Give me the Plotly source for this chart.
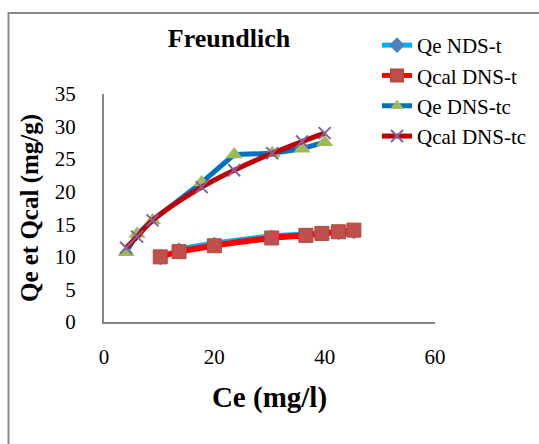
import plotly.graph_objects as go

# Data
ce_t = [10.2, 13.6, 20.0, 30.4, 36.6, 39.5, 42.5, 45.3]
qe_nds_t = [9.6, 11.3, 12.2, 13.3, 13.6, 13.8, 13.5, 13.6]
qcal_dns_t = [10.0, 10.8, 11.7, 12.9, 13.3, 13.6, 13.85, 14.1]

ce_tc = [4.0, 6.0, 8.8, 17.7, 23.6, 30.5, 35.9, 40.0]
qe_dns_tc = [10.7, 13.5, 15.6, 21.4, 25.7, 25.9, 26.6, 27.6]
qcal_dns_tc = [11.4, 13.1, 15.6, 20.7, 23.3, 25.9, 27.7, 29.0]

x_ticks = [0, 20, 40, 60]
y_ticks = [0, 5, 10, 15, 20, 25, 30, 35]

FONT = "Liberation Serif, Times New Roman, serif"

fig = go.Figure()
fig.add_trace(go.Scatter(
    x=ce_t, y=qe_nds_t, name="Qe NDS-t", mode="lines+markers",
    line=dict(color="#00B0F0", width=4),
    marker=dict(symbol="diamond", size=9, color="#4F81BD")))
fig.add_trace(go.Scatter(
    x=ce_t, y=qcal_dns_t, name="Qcal DNS-t", mode="lines+markers",
    line=dict(color="#FF0000", width=6, shape="spline"),
    marker=dict(symbol="square", size=14, color="#C0504D",
                line=dict(color="#B5473F", width=1))))
fig.add_trace(go.Scatter(
    x=ce_tc, y=qe_dns_tc, name="Qe DNS-tc", mode="lines+markers",
    line=dict(color="#0070C0", width=5),
    marker=dict(symbol="triangle-up", size=15, color="#9BBB59")))
fig.add_trace(go.Scatter(
    x=ce_tc, y=qcal_dns_tc, name="Qcal DNS-tc", mode="lines+markers",
    line=dict(color="#C00000", width=5, shape="spline"),
    marker=dict(symbol="x-thin", size=12, color="#8064A2",
                line=dict(color="#8064A2", width=2))))

L, R, T, B = 104, 104, 94, 122
W, H = 539, 444
pw, ph = W - L - R, H - T - B

def px_x(p):
    return (p - L) / pw

def px_y(p):
    return (H - B - p) / ph

fig.update_layout(
    width=W, height=H,
    margin=dict(l=L, r=R, t=T, b=B, autoexpand=False),
    paper_bgcolor="white", plot_bgcolor="white",
    font=dict(family=FONT, color="black", size=20),
    title=dict(text="<b>Freundlich</b>", font=dict(family=FONT, size=26, color="black"),
               x=px_x(229), xref="paper", xanchor="center",
               y=1 - 38 / H, yref="container", yanchor="middle"),
    showlegend=True,
    legend=dict(x=px_x(377), y=px_y(25), xanchor="left", yanchor="top",
                font=dict(family=FONT, size=21, color="black"),
                bgcolor="rgba(0,0,0,0)", tracegroupgap=0, itemsizing="constant"),
    xaxis=dict(range=[0, 60], tickvals=x_ticks, showgrid=False, zeroline=False,
               showline=True, linecolor="#868686", linewidth=2, ticks="",
               tickfont=dict(family=FONT, size=21, color="black"),
               ticklabelstandoff=15, automargin=False,
               title=dict(text="<b>Ce (mg/l)</b>", font=dict(family=FONT, size=29, color="black"),
                          standoff=18)),
    yaxis=dict(range=[0, 35], tickvals=y_ticks, showgrid=False, zeroline=False,
               showline=True, linecolor="#868686", linewidth=2, ticks="",
               tickfont=dict(family=FONT, size=21, color="black"),
               ticklabelstandoff=22, automargin=False,
               title=dict(text="<b>Qe et Qcal (mg/g)</b>", font=dict(family=FONT, size=25, color="black"),
                          standoff=9)),
    shapes=[dict(type="rect", xref="paper", yref="paper",
                 x0=px_x(8.5), x1=px_x(560), y0=px_y(470), y1=px_y(13),
                 line=dict(color="#898989", width=2), fillcolor="rgba(0,0,0,0)", layer="below")],
)

fig.write_html("out.html")
